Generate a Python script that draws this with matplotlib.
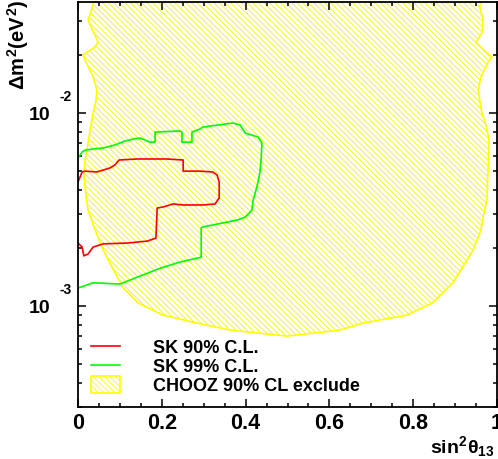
import matplotlib
matplotlib.use("Agg")
import matplotlib.pyplot as plt
from matplotlib.lines import Line2D
from matplotlib.patches import Patch
from matplotlib.ticker import LogLocator, NullFormatter, MultipleLocator

# ---- data ----
# SK 90% C.L. contour
sk90_x = [0.0, 0.010, 0.017, 0.045, 0.076, 0.088, 0.098, 0.141, 0.212, 0.251, 0.251,
          0.291, 0.322, 0.332, 0.337, 0.337, 0.327, 0.298, 0.251, 0.227, 0.203, 0.189,
          0.186, 0.165, 0.117, 0.060, 0.036, 0.024, 0.014, 0.010, 0.0]
sk90_y = [4.39e-3, 4.95e-3, 5.00e-3, 4.95e-3, 5.19e-3, 5.38e-3, 5.71e-3, 5.78e-3, 5.78e-3,
          5.71e-3, 5.00e-3, 5.00e-3, 4.95e-3, 4.77e-3, 4.39e-3, 3.63e-3, 3.38e-3, 3.34e-3,
          3.34e-3, 3.38e-3, 3.26e-3, 3.22e-3, 2.25e-3, 2.17e-3, 2.12e-3, 2.10e-3, 2.02e-3,
          1.86e-3, 1.82e-3, 2.02e-3, 2.12e-3]

# SK 99% C.L. contour
sk99_x = [0.0, 0.010, 0.017, 0.036, 0.060, 0.088, 0.112, 0.131, 0.148, 0.160, 0.172,
          0.184, 0.184, 0.243, 0.248, 0.248, 0.272, 0.272, 0.291, 0.298, 0.370, 0.387,
          0.399, 0.430, 0.439, 0.437, 0.434, 0.427, 0.418, 0.415, 0.399, 0.380, 0.298,
          0.294, 0.294, 0.243, 0.196, 0.141, 0.100, 0.036, 0.005, 0.0]
sk99_y = [5.85e-3, 6.28e-3, 6.43e-3, 6.51e-3, 6.59e-3, 6.83e-3, 7.16e-3, 7.33e-3, 7.42e-3,
          7.25e-3, 7.07e-3, 7.07e-3, 7.97e-3, 8.07e-3, 7.97e-3, 7.07e-3, 7.07e-3, 7.97e-3,
          8.26e-3, 8.46e-3, 8.88e-3, 8.67e-3, 7.88e-3, 7.51e-3, 6.99e-3, 5.71e-3, 4.89e-3,
          4.14e-3, 3.54e-3, 3.14e-3, 2.89e-3, 2.79e-3, 2.57e-3, 2.54e-3, 1.79e-3, 1.69e-3,
          1.57e-3, 1.41e-3, 1.30e-3, 1.32e-3, 1.25e-3, 1.24e-3]

# CHOOZ 90% CL excluded region boundary
chooz_x = [0.036, 0.036, 0.024, 0.048, 0.041, 0.012, 0.017, 0.036, 0.045, 0.043, 0.036,
           0.029, 0.024, 0.017, 0.014, 0.019, 0.024, 0.041, 0.057, 0.076, 0.107, 0.143,
           0.203, 0.284, 0.363, 0.499, 0.625, 0.680, 0.785, 0.847, 0.895, 0.943, 0.962,
           0.967, 0.976, 0.979, 0.981, 0.974, 0.964, 0.955, 0.962, 0.979, 0.988, 0.964,
           0.950, 0.964, 0.967, 0.959, 0.962]
chooz_y = [3.76e-2, 3.63e-2, 3.03e-2, 2.33e-2, 2.20e-2, 2.00e-2, 1.88e-2, 1.54e-2, 1.32e-2,
           1.17e-2, 1.00e-2, 8.16e-3, 6.99e-3, 5.71e-3, 4.77e-3, 3.76e-3, 3.14e-3, 2.48e-3,
           2.02e-3, 1.67e-3, 1.25e-3, 1.04e-3, 8.98e-4, 8.16e-4, 7.51e-4, 6.99e-4, 7.51e-4,
           8.16e-4, 8.98e-4, 1.04e-3, 1.32e-3, 1.95e-3, 2.48e-3, 2.89e-3, 3.54e-3, 5.25e-3,
           7.25e-3, 8.67e-3, 1.00e-2, 1.32e-2, 1.54e-2, 1.84e-2, 1.95e-2, 2.17e-2, 2.33e-2,
           2.60e-2, 3.03e-2, 3.54e-2, 3.76e-2]

x_ticks = [0, 0.2, 0.4, 0.6, 0.8, 1.0]
x_ticklabels = ["0", "0.2", "0.4", "0.6", "0.8", "1"]
y_ticks = [1e-3, 1e-2]
y_ticklabels = ["10", "10"]
y_exponents = ["-3", "-2"]
legend_labels = ["SK 90% C.L.", "SK 99% C.L.", "CHOOZ 90% CL exclude"]

# ---- style ----
plt.rcParams["font.family"] = ["Liberation Sans", "DejaVu Sans"]
plt.rcParams["font.weight"] = "bold"
plt.rcParams["mathtext.fontset"] = "custom"
plt.rcParams["mathtext.rm"] = "Liberation Sans:bold"
plt.rcParams["mathtext.it"] = "Liberation Sans:bold"
plt.rcParams["mathtext.bf"] = "Liberation Sans:bold"
plt.rcParams["hatch.linewidth"] = 0.55

YELLOW = "#ffff00"
HATCH_COLOR = "#f2f200"
HATCH = "\\" * 6

fig = plt.figure(figsize=(4.98, 4.59), dpi=100)
ax = fig.add_axes([78 / 498, 52 / 459, 419 / 498, 405 / 459])
ax.set_yscale("log")
ax.set_xlim(0, 1)
ax.set_ylim(3e-4, 3.76e-2)

ax.fill(chooz_x, chooz_y, facecolor="none", edgecolor=HATCH_COLOR, hatch=HATCH, linewidth=0)
ax.plot(chooz_x, chooz_y, color=YELLOW, lw=1.2)
ax.plot(sk99_x, sk99_y, color="#00ff00", lw=1.2)
ax.plot(sk90_x, sk90_y, color="#ff0000", lw=1.2)

# ticks
ax.set_xticks(x_ticks)
ax.set_xticklabels(x_ticklabels, fontsize=15.5, fontweight="bold")
ax.xaxis.set_minor_locator(MultipleLocator(0.05))
ax.set_yticks(y_ticks)
ax.set_yticklabels(y_ticklabels, fontsize=14, fontweight="bold")
ax.yaxis.set_minor_locator(LogLocator(base=10, subs=range(2, 10)))
ax.yaxis.set_minor_formatter(NullFormatter())
ax.tick_params(which="both", direction="in", top=True, right=True, width=1.1)
ax.tick_params(which="major", length=6)
ax.tick_params(which="minor", length=3.2)
ax.tick_params(axis="x", which="major", pad=4)
ax.tick_params(axis="y", which="major", pad=20)
for s in ax.spines.values():
    s.set_linewidth(1.3)

for yt, ex in zip(y_ticks, y_exponents):
    ax.annotate(ex, xy=(0, yt), xycoords=("axes fraction", "data"),
                xytext=(-8.6, 11.5), textcoords="offset points",
                ha="center", va="center", fontsize=10, fontweight="bold")

ax.set_ylabel(r"$\Delta m^{2}(eV^{2})$", loc="top", fontsize=14.5)
ax.yaxis.set_label_coords(-0.112, 1.005)
ax.set_xlabel(r"$sin^{2}\theta_{13}$", loc="right", fontsize=14)
ax.xaxis.set_label_coords(0.993, -0.066)

handles = [Line2D([], [], color="#ff0000", lw=1.2),
           Line2D([], [], color="#00ff00", lw=1.2),
           Patch(facecolor="none", edgecolor=YELLOW, hatch=HATCH, lw=1.2)]
ax.legend(handles, legend_labels, loc="lower left", bbox_to_anchor=(0.031, 0.03),
          frameon=False, prop={"size": 13, "weight": "bold"}, handlelength=1.6,
          handleheight=1.1, handletextpad=1.85, labelspacing=0.0, borderpad=0,
          borderaxespad=0)

fig.savefig("out.png", dpi=100)
